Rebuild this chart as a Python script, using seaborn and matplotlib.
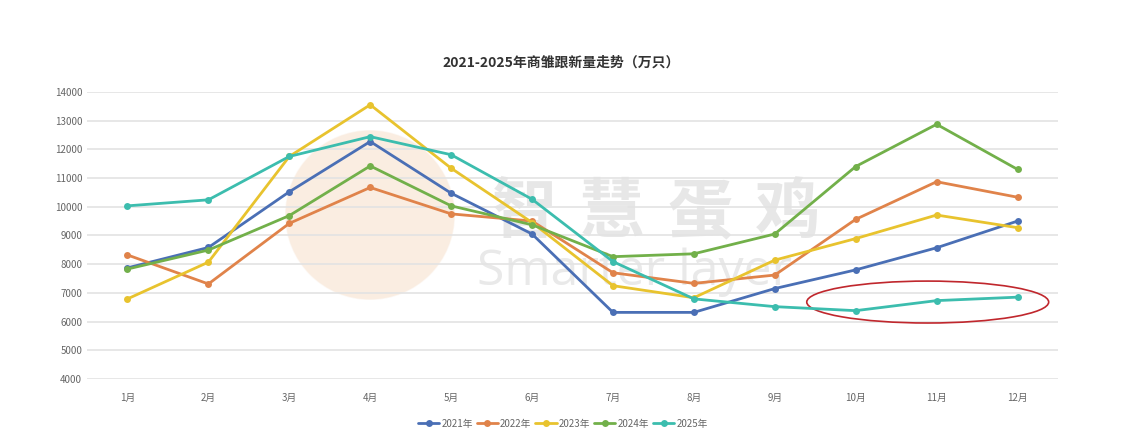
import matplotlib
matplotlib.use("Agg")
import matplotlib.pyplot as plt
import seaborn as sns
import pandas as pd
from matplotlib.patches import Ellipse, Circle

# data (万只)
months = ["1月", "2月", "3月", "4月", "5月", "6月", "7月", "8月", "9月", "10月", "11月", "12月"]
years = ["2021年", "2022年", "2023年", "2024年", "2025年"]
v2021 = [7870, 8580, 10520, 12270, 10470, 9050, 6320, 6320, 7150, 7800, 8570, 9500]
v2022 = [8320, 7310, 9420, 10670, 9750, 9500, 7700, 7330, 7620, 9560, 10870, 10330]
v2023 = [6790, 8070, 11750, 13550, 11340, 9450, 7250, 6830, 8140, 8890, 9710, 9270]
v2024 = [7830, 8490, 9690, 11420, 10030, 9370, 8260, 8360, 9050, 11400, 12870, 11300]
v2025 = [10030, 10240, 11750, 12440, 11810, 10260, 8090, 6790, 6520, 6380, 6730, 6850]
y_ticks = [4000, 5000, 6000, 7000, 8000, 9000, 10000, 11000, 12000, 13000, 14000]
colors = ["#4A6FB5", "#E0834A", "#E8C32E", "#72B04A", "#3CBDAE"]
watermark = "智慧蛋鸡"

df = pd.DataFrame({
    "month": months * 5,
    "year": [y for y in years for _ in months],
    "value": v2021 + v2022 + v2023 + v2024 + v2025,
})
df["idx"] = df["month"].map({m: i for i, m in enumerate(months)})

sns.set_theme(style="white")
plt.rcParams["font.family"] = ["Noto Sans CJK SC", "DejaVu Sans"]

fig = plt.figure(figsize=(11.23, 4.48), dpi=100)
ax = fig.add_axes([0.0775, 0.154, 0.8646, 0.641])

# faint watermark behind the lines (logo circle + spaced-out text)
fig.patches.append(Circle((3.70, 2.33), 0.85, transform=fig.dpi_scale_trans,
                          facecolor="#F6DCC4", alpha=0.5, zorder=-2))
for i, ch in enumerate(watermark):
    fig.text(0.466 + i * 0.0785, 0.525, ch, fontsize=47, fontweight="bold",
             color="#C4C4C4", alpha=0.4, ha="center", va="center", zorder=-1)
fig.text(0.565, 0.364, "Smarter layer", fontsize=36, color="#C8C8C8",
         alpha=0.4, ha="center", va="baseline", zorder=-1,
         family=["Open Sans", "DejaVu Sans"])
ax.patch.set_alpha(0)

sns.lineplot(data=df, x="idx", y="value", hue="year", palette=colors,
             marker="o", markersize=5, markeredgewidth=0, linewidth=2.0, ax=ax)

ax.set_xlim(-0.5, 11.5)
ax.set_ylim(4000, 14000)
ax.set_xticks(range(len(months)))
ax.set_xticklabels(months)
ax.set_yticks(y_ticks)
ax.tick_params(axis="both", labelsize=7, colors="#666666", length=0)
ax.tick_params(axis="x", pad=10)
ax.grid(axis="y", color="#E3E3E3", linewidth=1.2)
for s in ax.spines.values():
    s.set_visible(False)
ax.set_xlabel("")
ax.set_ylabel("")

# red highlight around late-2025 values
ax.add_patch(Ellipse((9.89, 6680), 2.99, 1460, fill=False, edgecolor="#C0272D", linewidth=1.2))

fig.suptitle("2021-2025年商雏跟新量走势（万只）", fontsize=10, fontweight="bold",
             color="#333333", y=0.875)

handles, labels = ax.get_legend_handles_labels()
ax.legend(handles, labels, loc="center", bbox_to_anchor=(0.49, -0.155), ncol=5,
          frameon=False, fontsize=7, handlelength=2.2, handletextpad=0.2,
          columnspacing=0.4, labelcolor="#666666")

fig.savefig("out.png", dpi=100, facecolor="white")
